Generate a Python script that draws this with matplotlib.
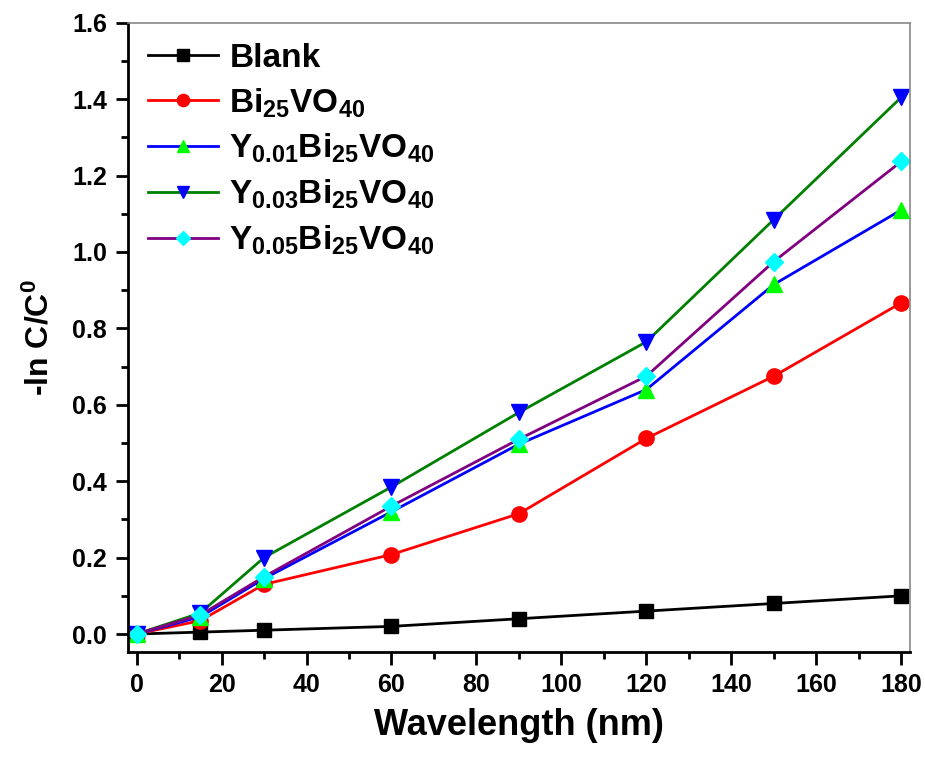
import matplotlib.pyplot as plt
from matplotlib.ticker import MultipleLocator

plt.rcParams["font.family"] = ["Liberation Sans", "DejaVu Sans"]
plt.rcParams["font.weight"] = "bold"
plt.rcParams["mathtext.fontset"] = "custom"
plt.rcParams["mathtext.rm"] = "Liberation Sans:bold"
plt.rcParams["mathtext.bf"] = "Liberation Sans:bold"
plt.rcParams["mathtext.it"] = "Liberation Sans:bold"
plt.rcParams["mathtext.default"] = "bf"

# data
time_min = [0, 15, 30, 60, 90, 120, 150, 180]
blank = [0, 0.005, 0.01, 0.02, 0.04, 0.06, 0.08, 0.1]
bi25 = [0, 0.035, 0.13, 0.208, 0.315, 0.512, 0.675, 0.867]
y001 = [0, 0.045, 0.145, 0.32, 0.497, 0.64, 0.915, 1.11]
y003 = [0, 0.055, 0.2, 0.385, 0.58, 0.765, 1.085, 1.405]
y005 = [0, 0.05, 0.15, 0.335, 0.51, 0.675, 0.975, 1.237]

labels = [
    "Blank",
    r"Bi$_{25}$VO$_{40}$",
    r"Y$_{0.01}$Bi$_{25}$VO$_{40}$",
    r"Y$_{0.03}$Bi$_{25}$VO$_{40}$",
    r"Y$_{0.05}$Bi$_{25}$VO$_{40}$",
]

fig = plt.figure(figsize=(9.25, 7.59), dpi=100)
ax = fig.add_axes([0.138, 0.141, 0.846, 0.829])

ax.plot(time_min, blank, color="black", marker="s", ms=10, mfc="black", mec="black", lw=2, label=labels[0])
ax.plot(time_min, bi25, color="red", marker="o", ms=11, mfc="red", mec="red", lw=2, label=labels[1])
ax.plot(time_min, y001, color="blue", marker="^", ms=11, mfc="#00ff00", mec="#00ff00", lw=2, label=labels[2])
ax.plot(time_min, y003, color="green", marker="v", ms=11, mfc="blue", mec="blue", lw=2, label=labels[3])
ax.plot(time_min, y005, color="purple", marker="D", ms=9, mfc="cyan", mec="cyan", lw=2, label=labels[4])

ax.set_xlim(-2.1, 182.1)
ax.set_ylim(-0.047, 1.6)
ax.xaxis.set_major_locator(MultipleLocator(20))
ax.xaxis.set_minor_locator(MultipleLocator(10))
ax.yaxis.set_major_locator(MultipleLocator(0.2))
ax.yaxis.set_minor_locator(MultipleLocator(0.1))
ax.yaxis.set_major_formatter(plt.FormatStrFormatter("%.1f"))

ax.tick_params(which="major", direction="out", length=9, width=2, labelsize=18, pad=6)
ax.tick_params(which="minor", direction="out", length=5, width=2)
for s in ["left", "bottom"]:
    ax.spines[s].set_linewidth(2)
for s in ["top", "right"]:
    ax.spines[s].set_linewidth(1.2)
    ax.spines[s].set_color("#888888")

ax.set_xlabel("Wavelength (nm)", fontsize=26, fontweight="bold", labelpad=8)
ax.set_ylabel(r"-ln C/C$^{0}$", fontsize=23, fontweight="bold", labelpad=12)

ax.legend(loc="upper left", frameon=False, fontsize=24, handlelength=2.1,
          handletextpad=0.35, labelspacing=0.37, borderaxespad=0.2,
          markerscale=0.8, bbox_to_anchor=(0.0, 1.0))

fig.savefig("out.png", dpi=100)
